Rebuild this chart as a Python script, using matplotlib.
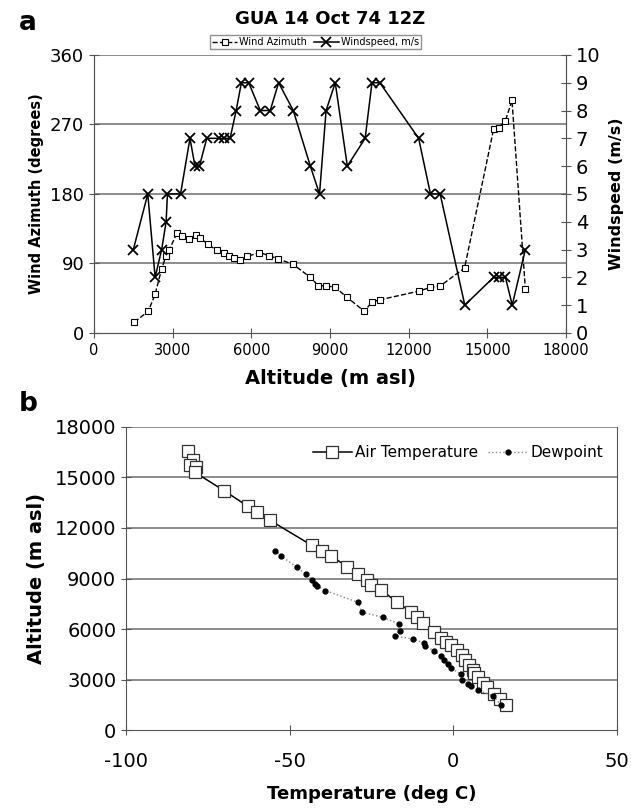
"""GUA 14 Oct 74 12Z sounding: wind profile and temperature profile."""

import matplotlib.pyplot as plt

plt.rcParams["axes.unicode_minus"] = False

# panel a: wind azimuth (degrees) vs altitude (m asl)
az_alt = [1540, 2070, 2330, 2580, 2750, 2860, 3160, 3350, 3630, 3890, 4050, 4330,
          4680, 4940, 5130, 5340, 5570, 5830, 6310, 6690, 7010, 7580, 8250, 8560,
          8860, 9200, 9650, 10310, 10600, 10920, 12380, 12830, 13210, 14130, 15240,
          15430, 15690, 15940, 16450]
az_deg = [14, 28, 50, 83, 100, 107, 129, 126, 121, 127, 123, 115,
          107, 104, 100, 97, 94, 99, 104, 100, 96, 89, 72, 61,
          61, 59, 46, 28, 40, 43, 54, 59, 61, 84, 264,
          266, 275, 301, 57]

# panel a: windspeed (m/s) vs altitude (m asl)
ws_alt = [1500, 2050, 2330, 2580, 2750, 2800, 3300, 3660, 3850, 4020, 4300, 4750,
          4950, 5190, 5420, 5620, 5900, 6340, 6720, 7040, 7600, 8250, 8600, 8850,
          9200, 9660, 10340, 10600, 10900, 12380, 12830, 13200, 14140, 15240, 15430,
          15690, 15950, 16450]
ws_ms = [3, 5, 2, 3, 4, 5, 5, 7, 6, 6, 7, 7,
         7, 7, 8, 9, 9, 8, 8, 9, 8, 6, 5, 8,
         9, 6, 7, 9, 9, 7, 5, 5, 1, 2, 2,
         2, 1, 3]

# panel b: air temperature (deg C) vs altitude
at_temp = [-81, -79.5, -80.3, -78.5, -79, -70, -62.7, -60, -56, -43.2, -40.2, -37.5,
           -32.4, -29.2, -26.4, -25, -22, -17.3, -13, -11, -9.4, -6, -3.8, -2.2,
           -0.8, 1, 2.6, 3.5, 4.7, 5.9, 6.2, 7.5, 9, 10.3, 12.3, 14.2, 16]
at_alt = [16550, 16000, 15750, 15600, 15300, 14200, 13270, 12950, 12450, 10960, 10640, 10360,
          9700, 9260, 8925, 8630, 8330, 7600, 7045, 6750, 6390, 5860, 5500, 5265,
          5070, 4775, 4480, 4180, 3885, 3590, 3420, 3190, 2835, 2560, 2165, 1850, 1510]

# panel b: dewpoint (deg C) vs altitude
dp_temp = [-54.6, -52.7, -47.9, -45.1, -43.1, -42.4, -41.7, -39.1, -29, -28, -21.6, -16.6,
           -16.3, -17.7, -12.4, -8.9, -8.5, -5.8, -3.8, -2.7, -1.7, -0.8, 2.3, 2.8,
           4.5, 5.4, 7.5, 12.2, 14.5]
dp_alt = [10660, 10350, 9680, 9260, 8925, 8690, 8570, 8290, 7580, 7010, 6700, 6315,
          5900, 5600, 5410, 5190, 4990, 4715, 4400, 4150, 3915, 3690, 3340, 2995,
          2730, 2640, 2380, 2050, 1510]

GRID = "#8c8c8c"

fig = plt.figure(figsize=(6.31, 8.08), dpi=100)

# ---- panel a ----
ax1 = fig.add_axes([0.149, 0.588, 0.748, 0.344])
ax2 = ax1.twinx()
ax1.plot(az_alt, az_deg, color="black", linestyle="--", linewidth=1.0, marker="s",
         markersize=5, markerfacecolor="white", markeredgecolor="black",
         markeredgewidth=0.8, label="Wind Azimuth", zorder=3)
ax2.plot(ws_alt, ws_ms, color="black", linestyle="-", linewidth=1.1, marker="x",
         markersize=7, markeredgewidth=1.3, label="Windspeed, m/s", zorder=3)

ax1.set_xlim(0, 18000)
ax1.set_ylim(0, 360)
ax1.set_xticks(range(0, 18001, 3000))
ax1.set_yticks(range(0, 361, 90))
ax2.set_ylim(0, 10)
ax2.set_yticks(range(0, 11))
for y in (90, 180, 270, 360):
    ax1.axhline(y, color=GRID, linewidth=1.4, zorder=1)
for a in (ax1, ax2):
    a.spines["top"].set_visible(False)
    for s in ("left", "right", "bottom"):
        a.spines[s].set_color("#555555")
ax1.tick_params(axis="both", direction="inout", length=7, labelsize=13, colors="#555555",
                labelcolor="black")
ax1.tick_params(axis="x", labelsize=10.5)
ax2.tick_params(axis="y", direction="inout", length=7, labelsize=14, colors="#555555",
                labelcolor="black")
ax1.set_ylabel("Wind Azimuth (degrees)", fontsize=10.5, fontweight="bold", labelpad=4)
ax2.set_ylabel("Windspeed (m/s)", fontsize=11.5, fontweight="bold", labelpad=6)
ax1.set_xlabel("Altitude (m asl)", fontsize=14, fontweight="bold", labelpad=8)
ax1.set_title("GUA 14 Oct 74 12Z", fontsize=13, fontweight="bold", pad=22)
h1, l1 = ax1.get_legend_handles_labels()
h2, l2 = ax2.get_legend_handles_labels()
fig.legend(h1 + h2, l1 + l2, loc="center", bbox_to_anchor=(0.50, 0.948), ncol=2,
           fontsize=7, frameon=True, fancybox=False, edgecolor="#777777",
           borderpad=0.2, handlelength=2.5, columnspacing=0.8, handletextpad=0.2,
           borderaxespad=0)
fig.text(0.03, 0.972, "a", fontsize=19, fontweight="bold", va="center")

# ---- panel b ----
ax3 = fig.add_axes([0.1997, 0.096, 0.778, 0.376])
ax3.plot(at_temp, at_alt, color="black", linestyle="-", linewidth=1.1, marker="s",
         markersize=9, markerfacecolor="white", markeredgecolor="#333333",
         markeredgewidth=0.9, label="Air Temperature", zorder=3)
ax3.plot(dp_temp, dp_alt, color="#888888", linestyle=":", linewidth=1.0, marker="o",
         markersize=3.5, markerfacecolor="black", markeredgecolor="black",
         label="Dewpoint", zorder=4)
ax3.set_xlim(-100, 50)
ax3.set_ylim(0, 18000)
ax3.set_xticks([-100, -50, 0, 50])
ax3.set_yticks(range(0, 18001, 3000))
for y in range(3000, 18001, 3000):
    ax3.axhline(y, color=GRID, linewidth=1.4, zorder=1)
ax3.spines["top"].set_visible(False)
ax3.spines["right"].set_color("#555555")
ax3.spines["left"].set_color("#555555")
ax3.spines["bottom"].set_color("#555555")
ax3.tick_params(axis="both", direction="inout", length=7, labelsize=14, colors="#555555",
                labelcolor="black")
ax3.tick_params(axis="x", pad=12)
ax3.set_ylabel("Altitude (m asl)", fontsize=14, fontweight="bold", labelpad=6)
ax3.set_xlabel("Temperature (deg C)", fontsize=13, fontweight="bold", labelpad=10)
ax3.legend(loc="upper right", bbox_to_anchor=(1.0, 0.985), ncol=2, fontsize=11,
           frameon=False, handlelength=2.6, columnspacing=0.6, handletextpad=0.2)
fig.text(0.03, 0.5, "b", fontsize=19, fontweight="bold", va="center")

fig.savefig("out.png", dpi=100)
